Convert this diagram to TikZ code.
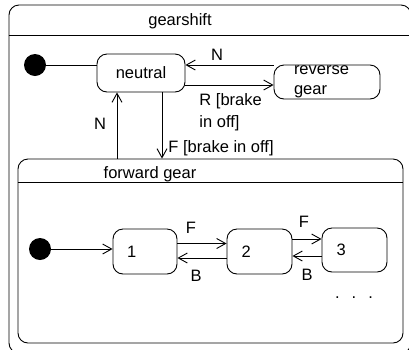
\documentclass[tikz,border=0pt]{standalone}
\usepackage{fontspec}
\setmainfont{Liberation Sans}
\usetikzlibrary{arrows.meta}

\begin{document}
\begin{tikzpicture}[x=1pt, y=-1pt, line width=0.9pt,
    every node/.style={inner sep=0pt, font=\fontsize{16.5}{20}\selectfont},
    state/.style={draw, rounded corners=10pt},
    init/.style={circle, fill, minimum size=22pt},
    trans/.style={-{Straight Barb[length=9pt,width=10pt,line width=0.9pt]}}]
	\useasboundingbox (0,0) rectangle (409,349);
	\clip (0,0) rectangle (409,349);

	% composite states with their header lines
	\node[state, minimum width=402pt, minimum height=348pt] (gearshift) at (210,179) {};
	\draw (gearshift.west |- 0,35) -- (gearshift.east |- 0,35);
	\node (gtitle) at (180,21) {gearshift};

	\node[state, minimum width=385pt, minimum height=184pt] (forward) at (210.5,251) {};
	\draw (forward.west |- 0,182) -- (forward.east |- 0,182);
	\node (ftitle) at (150,174) {forward gear};

	% top level
	\node[init] (start) at (35,65) {};
	\node[state, minimum width=88pt, minimum height=38pt] (neutral) at (141,73) {neutral};
	\node[state, minimum width=106pt, minimum height=34pt, text width=66pt, align=left] (reverse) at (327,82) {reverse\\gear};

	\draw (start) -- (start -| neutral.west);
	\draw[trans] ([yshift=8pt]neutral.east -| reverse.west) -- ([yshift=8pt]neutral.east);
	\draw[trans] ([yshift=-12pt]neutral.east) -- ([yshift=-12pt]neutral.east -| reverse.west);
	\draw[trans] ([xshift=21pt]neutral.south) -- ([xshift=21pt]neutral.south |- forward.north);
	\draw[trans] ([xshift=-24pt]neutral.south |- forward.north) -- ([xshift=-24pt]neutral.south);

	\node (nback) at (217,55) {N};
	\node[align=left, anchor=north west, font=\fontsize{16.5}{22}\selectfont] (rlabel) at (199,93) {R [brake\\in off]};
	\node[anchor=west] (flabel) at (168,148) {F [brake in off]};
	\node (nup) at (100,124) {N};

	% inside forward gear
	\node[init] (start2) at (40,249) {};
	\node[state, minimum width=64pt, minimum height=45pt, text width=36pt, align=left] (one) at (145,251.5) {1};
	\node[state, minimum width=65pt, minimum height=45pt, text width=36pt, align=left] (two) at (259.5,251.5) {2};
	\node[state, minimum width=65pt, minimum height=44pt, text width=36pt, align=left] (three) at (354.5,250) {3};

	\draw[trans] (start2) -- (start2 -| one.west);
	\draw[trans] ([yshift=8pt]one.east) -- ([yshift=8pt]one.east -| two.west);
	\draw[trans] ([yshift=-6.5pt]one.east -| two.west) -- ([yshift=-6.5pt]one.east);
	\draw[trans] ([yshift=12.5pt]two.east) -- ([yshift=12.5pt]two.east -| three.west);
	\draw[trans] ([yshift=-4.5pt]two.east -| three.west) -- ([yshift=-4.5pt]two.east);

	\node (f12) at (191,228) {F};
	\node (b21) at (196,276) {B};
	\node (f23) at (304,222) {F};
	\node (b32) at (307,275) {B};
	\node (more) at (354,298) {.\hspace{12pt}.\hspace{12pt}.};
\end{tikzpicture}
\end{document}
